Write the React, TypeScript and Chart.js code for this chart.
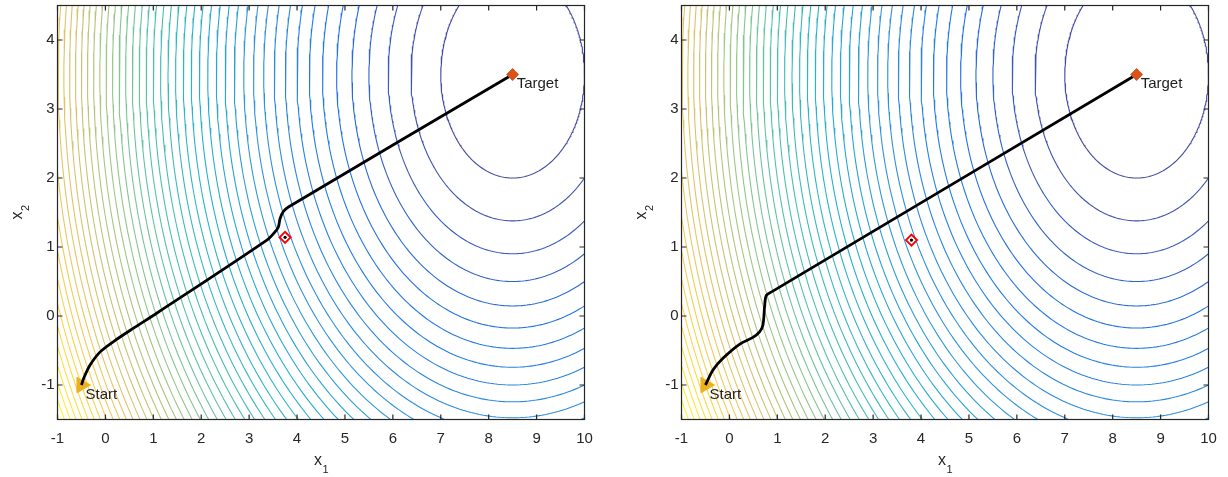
import React, { useEffect, useRef } from 'react';
import { Chart, registerables } from 'chart.js';

Chart.register(...registerables);

// Axis limits and tick values
const X_MIN = -1;
const X_MAX = 10;
const Y_MIN = -1.5;
const Y_MAX = 4.5;
const X_TICKS = [-1, 0, 1, 2, 3, 4, 5, 6, 7, 8, 9, 10];
const Y_TICKS = [-1, 0, 1, 2, 3, 4];

// Start and goal of the trajectory
const START = { x: -0.5, y: -1 };
const TARGET = { x: 8.5, y: 3.5 };

// Cost = squared distance to the target; these are the contour levels drawn
const CONTOUR_LEVELS = [
  2.25, 4.5, 6.75, 9, 11.25, 13.5, 15.75, 18, 20.25, 22.5, 24.75, 27, 29.25,
  31.5, 33.75, 36, 38.25, 40.5, 42.75, 45, 47.25, 49.5, 51.75, 54, 56.25, 58.5,
  60.75, 63, 65.25, 67.5, 69.75, 72, 74.25, 76.5, 78.75, 81, 83.25, 85.5, 87.75,
  90, 92.25, 94.5, 96.75, 99, 101.25, 103.5, 105.75, 108, 110.25, 112.5, 114.75,
];
// Colour limits of the cost map (min and max over the plotted region)
const COST_MIN = 0;
const COST_MAX = 115.25;

// Trajectory of the first controller
const LEFT_PATH_X = [-0.5, -0.44, -0.32, -0.11, 0.17, 0.58, 1.07, 3.37, 3.54, 3.61, 3.645, 3.71, 3.82, 8.5];
const LEFT_PATH_Y = [-1.0, -0.88, -0.71, -0.52, -0.37, -0.18, 0.04, 1.1, 1.22, 1.29, 1.41, 1.51, 1.58, 3.5];
const LEFT_OBSTACLE = { x: 3.75, y: 1.14 };

// Trajectory of the second controller
const RIGHT_PATH_X = [-0.5, -0.34, -0.13, 0.21, 0.49, 0.63, 0.7, 0.735, 0.77, 0.88, 8.5];
const RIGHT_PATH_Y = [-1.0, -0.78, -0.61, -0.41, -0.31, -0.23, -0.13, 0.14, 0.3, 0.35, 3.5];
const RIGHT_OBSTACLE = { x: 3.8, y: 1.1 };

// Parula colormap anchors
const PARULA = ['#352a87', '#0363e1', '#1485d4', '#06a7c6', '#38b99e', '#92bf73', '#d9ba56', '#fcce2e', '#f9fb0e'];

const FONT = "'Liberation Sans', Arial, Helvetica, sans-serif";
const AXIS_COLOR = '#262626';

const CANVAS_W = 604;
const CANVAS_H = 477;

function hexToRgb(h: string): number[] {
  const n = parseInt(h.slice(1), 16);
  return [(n >> 16) & 255, (n >> 8) & 255, n & 255];
}

function parulaColor(t: number): string {
  const c = Math.min(1, Math.max(0, t)) * (PARULA.length - 1);
  const i = Math.min(PARULA.length - 2, Math.floor(c));
  const f = c - i;
  const a = hexToRgb(PARULA[i]);
  const b = hexToRgb(PARULA[i + 1]);
  // thin contour strokes blend a little with the white background
  const m = a.map((v, k) => Math.round((v + (b[k] - v) * f) * 0.88 + 255 * 0.12));
  return `rgb(${m[0]},${m[1]},${m[2]})`;
}

// Each level set of the squared distance is a circle round the target
function contourDataset(level: number) {
  const r = Math.sqrt(level);
  const pts: { x: number; y: number }[] = [];
  const steps = 360;
  for (let i = 0; i <= steps; i++) {
    const a = (i / steps) * Math.PI * 2;
    pts.push({ x: TARGET.x + r * Math.cos(a), y: TARGET.y + r * Math.sin(a) });
  }
  return {
    data: pts,
    showLine: true,
    borderColor: parulaColor((level - COST_MIN) / (COST_MAX - COST_MIN)),
    borderWidth: 1.1,
    pointRadius: 0,
    tension: 0,
    fill: false,
  };
}

function drawSubscripted(ctx: CanvasRenderingContext2D, base: string, sub: string, cx: number, baseline: number) {
  ctx.font = `16px ${FONT}`;
  const wb = ctx.measureText(base).width;
  ctx.font = `11px ${FONT}`;
  const ws = ctx.measureText(sub).width;
  const x0 = cx - (wb + ws) / 2;
  ctx.textAlign = 'left';
  ctx.textBaseline = 'alphabetic';
  ctx.font = `16px ${FONT}`;
  ctx.fillText(base, x0, baseline);
  ctx.font = `11px ${FONT}`;
  ctx.fillText(sub, x0 + wb + 0.5, baseline + 7.5);
}

const matlabAxesPlugin = {
  id: 'matlabAxes',
  afterDatasetsDraw(chart: any) {
    const { ctx } = chart;
    const xs = chart.scales.x;
    const ys = chart.scales.y;
    ctx.save();
    ctx.fillStyle = '#1e1e1e';
    ctx.font = `15px ${FONT}`;
    ctx.textAlign = 'left';
    ctx.textBaseline = 'alphabetic';
    ctx.fillText('Start', xs.getPixelForValue(START.x) + 4, ys.getPixelForValue(START.y) + 13.5);
    ctx.fillText('Target', xs.getPixelForValue(TARGET.x) + 4, ys.getPixelForValue(TARGET.y) + 13.5);
    ctx.restore();
  },
  afterDraw(chart: any) {
    const { ctx, chartArea } = chart;
    const { left, right, top, bottom } = chartArea;
    const xs = chart.scales.x;
    const ys = chart.scales.y;
    const tl = 5;
    ctx.save();
    ctx.strokeStyle = AXIS_COLOR;
    ctx.lineWidth = 1.2;
    ctx.strokeRect(left, top, right - left, bottom - top);
    ctx.beginPath();
    X_TICKS.forEach((v) => {
      const px = xs.getPixelForValue(v);
      ctx.moveTo(px, bottom);
      ctx.lineTo(px, bottom - tl);
      ctx.moveTo(px, top);
      ctx.lineTo(px, top + tl);
    });
    Y_TICKS.forEach((v) => {
      const py = ys.getPixelForValue(v);
      ctx.moveTo(left, py);
      ctx.lineTo(left + tl, py);
      ctx.moveTo(right, py);
      ctx.lineTo(right - tl, py);
    });
    ctx.stroke();

    // Axis titles with subscripts
    ctx.fillStyle = AXIS_COLOR;
    drawSubscripted(ctx, 'x', '1', (left + right) / 2, bottom + 45.5);
    ctx.translate(left - 36, (top + bottom) / 2);
    ctx.rotate(-Math.PI / 2);
    drawSubscripted(ctx, 'x', '2', 0, 0);
    ctx.restore();
  },
};

type PlotProps = {
  pathX: number[];
  pathY: number[];
  obstacle: { x: number; y: number };
};

function PathPlot({ pathX, pathY, obstacle }: PlotProps) {
  const ref = useRef<HTMLCanvasElement>(null);

  useEffect(() => {
    const canvas = ref.current;
    if (!canvas) return;
    const path = pathX.map((x, i) => ({ x, y: pathY[i] }));

    const datasets: any[] = [
      {
        data: [obstacle],
        pointStyle: 'circle',
        pointRadius: 1.6,
        pointBackgroundColor: '#000000',
        pointBorderWidth: 0,
        showLine: false,
      },
      {
        data: [obstacle],
        pointStyle: 'rectRot',
        pointRadius: 5.5,
        pointBackgroundColor: '#ffffff',
        pointBorderColor: '#ff0000',
        pointBorderWidth: 2,
        showLine: false,
      },
      {
        data: [TARGET],
        pointStyle: 'rectRot',
        pointRadius: 6,
        pointBackgroundColor: '#D95319',
        pointBorderColor: '#D95319',
        pointBorderWidth: 1,
        showLine: false,
      },
      {
        data: path,
        showLine: true,
        borderColor: '#000000',
        borderWidth: 2.8,
        pointRadius: 0,
        tension: 0.3,
        fill: false,
      },
      {
        data: [START],
        pointStyle: 'triangle',
        pointRotation: 90,
        pointRadius: 9,
        pointBackgroundColor: '#EDB120',
        pointBorderColor: '#EDB120',
        pointBorderWidth: 1,
        showLine: false,
      },
      ...CONTOUR_LEVELS.map(contourDataset),
    ];

    const chart = new Chart(canvas, {
      type: 'scatter',
      data: { datasets },
      options: {
        animation: false,
        responsive: false,
        devicePixelRatio: 1,
        events: [],
        layout: { autoPadding: false, padding: { left: 0, right: 19.5, top: 5.5, bottom: 0 } },
        plugins: {
          legend: { display: false },
          tooltip: { enabled: false },
        },
        scales: {
          x: {
            type: 'linear',
            min: X_MIN,
            max: X_MAX,
            grid: { display: false, drawTicks: false },
            border: { display: false },
            ticks: {
              color: AXIS_COLOR,
              font: { size: 15, family: FONT },
              padding: 10,
              autoSkip: false,
              maxRotation: 0,
            },
            afterBuildTicks: (s: any) => {
              s.ticks = X_TICKS.map((v) => ({ value: v }));
            },
            afterFit: (s: any) => {
              s.height = 57.5;
              s.paddingLeft = 0;
              s.paddingRight = 0;
            },
          },
          y: {
            type: 'linear',
            min: Y_MIN,
            max: Y_MAX,
            grid: { display: false, drawTicks: false },
            border: { display: false },
            ticks: {
              color: AXIS_COLOR,
              font: { size: 15, family: FONT },
              padding: 3,
              autoSkip: false,
            },
            afterBuildTicks: (s: any) => {
              s.ticks = Y_TICKS.map((v) => ({ value: v }));
            },
            afterFit: (s: any) => {
              s.width = 57.5;
              s.paddingTop = 0;
              s.paddingBottom = 0;
            },
          },
        },
      } as any,
      plugins: [matlabAxesPlugin as any],
    });

    return () => chart.destroy();
  }, [pathX, pathY, obstacle]);

  return (
    <canvas
      ref={ref}
      width={CANVAS_W}
      height={CANVAS_H}
      style={{ display: 'block', width: CANVAS_W, height: CANVAS_H }}
    />
  );
}

export default function App() {
  return (
    <div style={{ position: 'fixed', left: 0, top: 0, width: 1228, height: 477, background: '#ffffff' }}>
      <div style={{ position: 'absolute', left: 0, top: 0 }}>
        <PathPlot pathX={LEFT_PATH_X} pathY={LEFT_PATH_Y} obstacle={LEFT_OBSTACLE} />
      </div>
      <div style={{ position: 'absolute', left: 624, top: 0 }}>
        <PathPlot pathX={RIGHT_PATH_X} pathY={RIGHT_PATH_Y} obstacle={RIGHT_OBSTACLE} />
      </div>
    </div>
  );
}
